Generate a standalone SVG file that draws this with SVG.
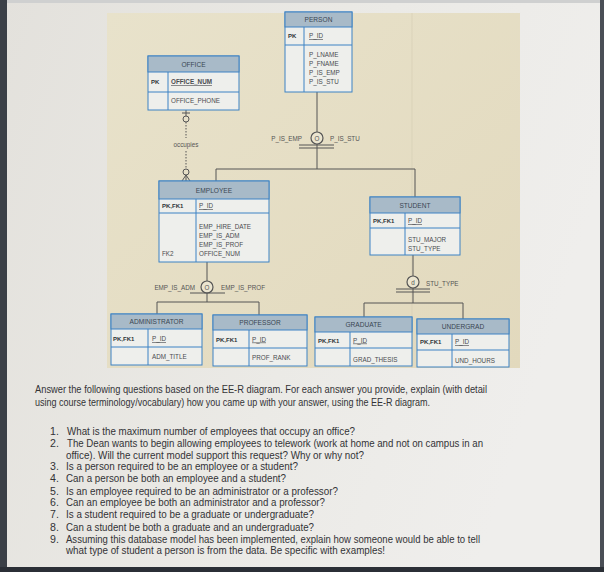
<svg xmlns="http://www.w3.org/2000/svg" width="604" height="572" viewBox="0 0 604 572">
<defs>
<linearGradient id="page" x1="0" y1="0" x2="1" y2="0.3">
<stop offset="0" stop-color="#e3e1dc"/>
<stop offset="0.6" stop-color="#ebeae6"/>
<stop offset="1" stop-color="#efeeec"/>
</linearGradient>
<linearGradient id="beige" x1="0" y1="0" x2="1" y2="1">
<stop offset="0" stop-color="#e8e2cb"/>
<stop offset="1" stop-color="#e2d9bd"/>
</linearGradient>
</defs>
<style>
.hd{fill:#a8bac8;stroke:#3d82c4;stroke-width:1}
.bd{fill:#eeefec;stroke:#3d82c4;stroke-width:1}
.dv{stroke:#3d82c4;stroke-width:1}
.t{font-family:"Liberation Sans",Arial,sans-serif;font-size:6.3px;fill:#4a4c50}
.h{font-family:"Liberation Sans",Arial,sans-serif;font-size:6.6px;fill:#3a4652;text-anchor:middle}
.k{font-family:"Liberation Sans",Arial,sans-serif;font-size:6px;fill:#2f3338;font-weight:bold}
.u{text-decoration:underline}
.c{stroke:#555;stroke-width:1;fill:none}
.lb{font-family:"Liberation Sans",Arial,sans-serif;font-size:6.3px;fill:#555}
.q{font-family:"Liberation Sans",Arial,sans-serif;font-size:10.6px;fill:#333336}
</style>
<rect width="604" height="572" fill="url(#page)"/>
<rect x="0" y="0" width="7" height="572" fill="#3b4047"/>
<rect x="600" y="0" width="4" height="572" fill="#4a4f56"/>
<rect x="0" y="567" width="604" height="5" fill="#2b2f36"/>
<rect x="7" y="0" width="593" height="3" fill="#cfd0d0"/>
<rect x="107" y="13" width="413" height="355" fill="url(#beige)"/>
<line x1="412" y1="13" x2="412" y2="368" stroke="#d6cfb6" stroke-width="0.7"/>

<g id="connectors">
<line class="c" x1="186" y1="110" x2="186" y2="116"/>
<line class="c" x1="182" y1="113" x2="190" y2="113"/>
<circle class="c" cx="186" cy="119" r="3"/>
<line class="c" x1="186" y1="122" x2="186" y2="138" stroke-dasharray="1.5,1.5"/>
<line class="c" x1="186" y1="151" x2="186" y2="169" stroke-dasharray="1.5,1.5"/>
<circle class="c" cx="186" cy="172" r="3"/>
<path class="c" d="M186,175 L182,181 M186,175 L186,181 M186,175 L190,181"/>
<text class="lb" x="186" y="147" text-anchor="middle" font-size="5.5">occupies</text>

<line class="c" x1="317" y1="92" x2="317" y2="132"/>
<circle cx="317" cy="138" r="6" fill="#ebe5d0" stroke="#555" stroke-width="1.2"/>
<text class="lb" x="317" y="141" text-anchor="middle" font-size="8">O</text>
<line class="c" x1="299" y1="145" x2="334" y2="145"/>
<line class="c" x1="299" y1="148" x2="334" y2="148"/>
<line class="c" x1="317" y1="144" x2="317" y2="169"/>
<polyline class="c" points="216,181 216,169 415,169 415,197"/>
<text class="lb" x="302" y="140.5" text-anchor="end">P_IS_EMP</text>
<text class="lb" x="330" y="140.5">P_IS_STU</text>

<line class="c" x1="207" y1="262" x2="207" y2="281"/>
<circle cx="207" cy="287" r="6" fill="#ebe5d0" stroke="#555" stroke-width="1.2"/>
<text class="lb" x="207" y="290" text-anchor="middle" font-size="8">O</text>
<line class="c" x1="190" y1="293" x2="225" y2="293" stroke-width="1.4"/>
<line class="c" x1="207" y1="293" x2="207" y2="302"/>
<polyline class="c" points="157,314 157,302 259,302 259,315"/>
<text class="lb" x="195" y="289.5" text-anchor="end">EMP_IS_ADM</text>
<text class="lb" x="221" y="289.5">EMP_IS_PROF</text>

<line class="c" x1="413" y1="255" x2="413" y2="276" stroke="#8a8a84"/>
<circle cx="413" cy="282" r="6" fill="#ebe5d0" stroke="#555" stroke-width="1.2"/>
<text class="lb" x="413" y="285" text-anchor="middle" font-size="8">d</text>
<line class="c" x1="396" y1="289" x2="430" y2="289"/>
<line class="c" x1="396" y1="292" x2="430" y2="292"/>
<line class="c" x1="413" y1="288" x2="413" y2="303"/>
<polyline class="c" points="364,317 364,303 463,303 463,319"/>
<text class="lb" x="426" y="285.5">STU_TYPE</text>
</g>

<g id="person">
<rect class="bd" x="285" y="12" width="67" height="80"/>
<rect class="hd" x="285" y="12" width="67" height="15"/>
<line class="dv" x1="285" y1="45" x2="352" y2="45"/>
<line class="dv" x1="304" y1="27" x2="304" y2="92"/>
<text class="h" x="318.5" y="22">PERSON</text>
<text class="k" x="288" y="38">PK</text>
<text class="t u" x="309" y="38">P_ID</text>
<text class="t" x="309" y="57">P_LNAME</text>
<text class="t" x="309" y="66">P_FNAME</text>
<text class="t" x="309" y="75">P_IS_EMP</text>
<text class="t" x="309" y="84">P_IS_STU</text>
</g>

<g id="office">
<rect class="bd" x="148" y="56" width="91" height="54"/>
<rect class="hd" x="148" y="56" width="91" height="16"/>
<line class="dv" x1="148" y1="92" x2="239" y2="92"/>
<line class="dv" x1="168" y1="72" x2="168" y2="110"/>
<text class="h" x="193.5" y="67">OFFICE</text>
<text class="k" x="151" y="84">PK</text>
<text class="t u" x="171" y="84" font-weight="bold">OFFICE_NUM</text>
<text class="t" x="171" y="103">OFFICE_PHONE</text>
</g>

<g id="employee">
<rect class="bd" x="159" y="181" width="110" height="81"/>
<rect class="hd" x="159" y="181" width="110" height="18"/>
<line class="dv" x1="159" y1="213" x2="269" y2="213"/>
<line class="dv" x1="196" y1="199" x2="196" y2="262"/>
<text class="h" x="214" y="193">EMPLOYEE</text>
<text class="k" x="162" y="208">PK,FK1</text>
<text class="t u" x="199" y="208">P_ID</text>
<text class="t" x="199" y="228.5">EMP_HIRE_DATE</text>
<text class="t" x="199" y="237.5">EMP_IS_ADM</text>
<text class="t" x="199" y="246.5">EMP_IS_PROF</text>
<text class="t" x="199" y="255.5">OFFICE_NUM</text>
<text class="t" x="162" y="255.5">FK2</text>
</g>

<g id="student">
<rect class="bd" x="370" y="197" width="90" height="58"/>
<rect class="hd" x="370" y="197" width="90" height="16"/>
<line class="dv" x1="370" y1="228" x2="460" y2="228"/>
<line class="dv" x1="405" y1="213" x2="405" y2="255"/>
<text class="h" x="415" y="207.5">STUDENT</text>
<text class="k" x="373" y="223">PK,FK1</text>
<text class="t u" x="408" y="223">P_ID</text>
<text class="t" x="408" y="242">STU_MAJOR</text>
<text class="t" x="408" y="251">STU_TYPE</text>
</g>

<g id="administrator">
<rect class="bd" x="111" y="314" width="91" height="51"/>
<rect class="hd" x="111" y="314" width="91" height="15"/>
<line class="dv" x1="111" y1="347" x2="202" y2="347"/>
<line class="dv" x1="148" y1="329" x2="148" y2="365"/>
<text class="h" x="156.5" y="324">ADMINISTRATOR</text>
<text class="k" x="113" y="341">PK,FK1</text>
<text class="t u" x="152" y="341">P_ID</text>
<text class="t" x="152" y="359">ADM_TITLE</text>
</g>

<g id="professor">
<rect class="bd" x="213" y="315" width="94" height="51"/>
<rect class="hd" x="213" y="315" width="94" height="15"/>
<line class="dv" x1="213" y1="348" x2="307" y2="348"/>
<line class="dv" x1="249" y1="330" x2="249" y2="366"/>
<text class="h" x="260" y="325">PROFESSOR</text>
<text class="k" x="216" y="341.5">PK,FK1</text>
<text class="t u" x="252" y="341.5">P_ID</text>
<text class="t" x="252" y="360">PROF_RANK</text>
</g>

<g id="graduate">
<rect class="bd" x="315" y="317" width="97" height="49"/>
<rect class="hd" x="315" y="317" width="97" height="15"/>
<line class="dv" x1="315" y1="348" x2="412" y2="348"/>
<line class="dv" x1="350" y1="332" x2="350" y2="366"/>
<text class="h" x="363.5" y="327">GRADUATE</text>
<text class="k" x="318" y="342.5">PK,FK1</text>
<text class="t u" x="353" y="342.5">P_ID</text>
<text class="t" x="353" y="361.5">GRAD_THESIS</text>
</g>

<g id="undergrad">
<rect class="bd" x="417" y="319" width="92" height="48"/>
<rect class="hd" x="417" y="319" width="92" height="15"/>
<line class="dv" x1="417" y1="350" x2="509" y2="350"/>
<line class="dv" x1="452" y1="334" x2="452" y2="367"/>
<text class="h" x="463" y="329">UNDERGRAD</text>
<text class="k" x="420" y="344">PK,FK1</text>
<text class="t u" x="455" y="344">P_ID</text>
<text class="t" x="455" y="362.5">UND_HOURS</text>
</g>

<g id="questions">
<text class="q" x="35" y="392.5" textLength="452" lengthAdjust="spacingAndGlyphs">Answer the following questions based on the EE-R diagram. For each answer you provide, explain (with detail</text>
<text class="q" x="35" y="405.5" textLength="395" lengthAdjust="spacingAndGlyphs">using course terminology/vocabulary) how you came up with your answer, using the EE-R diagram.</text>
<text class="q" x="50" y="434.5">1.</text>
<text class="q" x="67" y="434.5" textLength="288" lengthAdjust="spacingAndGlyphs">What is the maximum number of employees that occupy an office?</text>
<text class="q" x="50" y="446.5">2.</text>
<text class="q" x="67" y="446.5" textLength="416" lengthAdjust="spacingAndGlyphs">The Dean wants to begin allowing employees to telework (work at home and not on campus in an</text>
<text class="q" x="66" y="458.5" textLength="298" lengthAdjust="spacingAndGlyphs">office). Will the current model support this request? Why or why not?</text>
<text class="q" x="50" y="469.5">3.</text>
<text class="q" x="66" y="469.5" textLength="232" lengthAdjust="spacingAndGlyphs">Is a person required to be an employee or a student?</text>
<text class="q" x="50" y="481.5">4.</text>
<text class="q" x="66" y="481.5" textLength="220" lengthAdjust="spacingAndGlyphs">Can a person be both an employee and a student?</text>
<text class="q" x="50" y="494.5">5.</text>
<text class="q" x="66" y="494.5" textLength="272" lengthAdjust="spacingAndGlyphs">Is an employee required to be an administrator or a professor?</text>
<text class="q" x="50" y="505.5">6.</text>
<text class="q" x="66" y="505.5" textLength="259" lengthAdjust="spacingAndGlyphs">Can an employee be both an administrator and a professor?</text>
<text class="q" x="50" y="517.5">7.</text>
<text class="q" x="66" y="517.5" textLength="248" lengthAdjust="spacingAndGlyphs">Is a student required to be a graduate or undergraduate?</text>
<text class="q" x="50" y="530.5">8.</text>
<text class="q" x="66" y="530.5" textLength="248" lengthAdjust="spacingAndGlyphs">Can a student be both a graduate and an undergraduate?</text>
<text class="q" x="50" y="542.5">9.</text>
<text class="q" x="66" y="542.5" textLength="414" lengthAdjust="spacingAndGlyphs">Assuming this database model has been implemented, explain how someone would be able to tell</text>
<text class="q" x="66" y="553.5" textLength="319" lengthAdjust="spacingAndGlyphs">what type of student a person is from the data. Be specific with examples!</text>
</g>
</svg>
